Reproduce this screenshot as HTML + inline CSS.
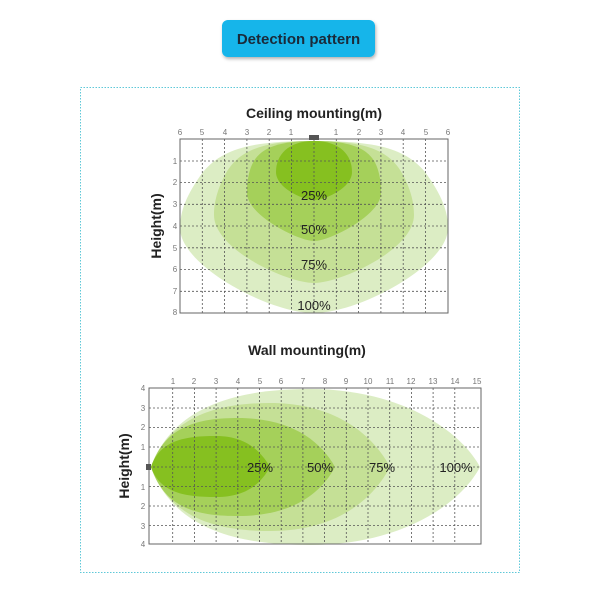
<!DOCTYPE html>
<html><head><meta charset="utf-8"><style>
body{margin:0;background:#fff;width:600px;height:600px;overflow:hidden;font-family:"Liberation Sans",sans-serif}
</style></head><body>
<svg width="600" height="600" xmlns="http://www.w3.org/2000/svg" font-family="Liberation Sans, sans-serif">
<defs><filter id="sh" x="-10%" y="-20%" width="130%" height="160%"><feDropShadow dx="1" dy="2" stdDeviation="1.5" flood-color="#000" flood-opacity="0.3"/></filter></defs>
<rect x="222" y="20" width="153" height="37" rx="6" fill="#12b5ea" filter="url(#sh)"/>
<text x="298.5" y="44" text-anchor="middle" font-size="15" font-weight="bold" fill="#1a2a3a">Detection pattern</text>
<rect x="80.5" y="87.5" width="439" height="485" fill="none" stroke="#5fc8d8" stroke-width="1" stroke-dasharray="1.5,1.5"/>

<!-- Ceiling -->
<text x="314" y="118" text-anchor="middle" font-size="14" font-weight="bold" fill="#222">Ceiling mounting(m)</text>
<path d="M314,141 C375,141 405,148 425,172 C442,195 448,212 448,228 C448,265 360,313 314,313 C268,313 180,265 180,228 C180,212 186,195 203,172 C223,148 253,141 314,141Z" fill="#dcedc4"/>
<path d="M314,141 C365,141 390,150 403,175 C412,192 414,205 414,215 C414,250 340,283 314,283 C288,283 214,250 214,215 C214,205 216,192 225,175 C238,150 263,141 314,141Z" fill="#c5e096"/>
<path d="M314,141 C355,141 372,150 378,170 C381,180 381,188 381,193 C381,215 330,241 314,241 C298,241 247,215 247,193 C247,188 247,180 250,170 C256,150 273,141 314,141Z" fill="#a5d05a"/>
<path d="M314,141 C340,141 352,155 352,172 C352,188 325,200 314,200 C303,200 276,188 276,172 C276,155 288,141 314,141Z" fill="#86c020"/>
<g stroke="#555" stroke-width="0.8" stroke-dasharray="2,2" fill="none">
<path d="M202.3,139V313M224.6,139V313M246.9,139V313M269.2,139V313M291.5,139V313M314,139V313M336.3,139V313M358.6,139V313M380.9,139V313M403.2,139V313M425.5,139V313"/>
<path d="M180,161H448M180,182.5H448M180,204.3H448M180,226H448M180,247.8H448M180,269.5H448M180,291.3H448"/>
</g>
<rect x="180" y="139" width="268" height="174" fill="none" stroke="#666" stroke-width="1"/>
<rect x="309" y="135" width="10" height="5" fill="#555"/>
<g font-size="8" fill="#777" text-anchor="middle">
<text x="180" y="135">6</text><text x="202" y="135">5</text><text x="225" y="135">4</text><text x="247" y="135">3</text><text x="269" y="135">2</text><text x="291" y="135">1</text><text x="336" y="135">1</text><text x="359" y="135">2</text><text x="381" y="135">3</text><text x="403" y="135">4</text><text x="426" y="135">5</text><text x="448" y="135">6</text>
<text x="175" y="164">1</text><text x="175" y="185">2</text><text x="175" y="207">3</text><text x="175" y="229">4</text><text x="175" y="251">5</text><text x="175" y="272">6</text><text x="175" y="294">7</text><text x="175" y="315">8</text>
</g>
<text transform="translate(161,226) rotate(-90)" text-anchor="middle" font-size="14" font-weight="bold" fill="#222">Height(m)</text>
<g font-size="13" fill="#222" text-anchor="middle">
<text x="314" y="200">25%</text><text x="314" y="234">50%</text><text x="314" y="269">75%</text><text x="314" y="310">100%</text>
</g>

<!-- Wall -->
<text x="307" y="355" text-anchor="middle" font-size="14" font-weight="bold" fill="#222">Wall mounting(m)</text>
<path d="M151,467 C175,400 250,389 310,389 C400,389 460,430 480,467 C460,505 400,545 310,545 C250,545 175,535 151,467Z" fill="#dcedc4"/>
<path d="M151,467 C170,415 220,403 270,403 C330,403 370,430 390,467 C370,505 330,531 270,531 C220,531 170,520 151,467Z" fill="#c5e096"/>
<path d="M151,467 C165,425 200,418 238,418 C290,418 320,440 335,467 C320,495 290,516 238,516 C200,516 165,510 151,467Z" fill="#a5d05a"/>
<path d="M151,467 C160,440 185,436 216,436 C245,436 260,450 270,467 C260,485 245,497 216,497 C185,497 160,493 151,467Z" fill="#86c020"/>
<g stroke="#555" stroke-width="0.8" stroke-dasharray="2,2" fill="none">
<path d="M172.7,388V544M194.4,388V544M216.1,388V544M237.8,388V544M259.5,388V544M281.2,388V544M302.9,388V544M324.6,388V544M346.3,388V544M368,388V544M389.7,388V544M411.4,388V544M433.1,388V544M454.8,388V544"/>
<path d="M149,408H481M149,427.5H481M149,447H481M149,467H481M149,486.5H481M149,506H481M149,525.5H481"/>
</g>
<rect x="149" y="388" width="332" height="156" fill="none" stroke="#666" stroke-width="1"/>
<rect x="146" y="464" width="5" height="6" fill="#555"/>
<g font-size="8" fill="#777" text-anchor="middle">
<text x="173" y="384">1</text><text x="194" y="384">2</text><text x="216" y="384">3</text><text x="238" y="384">4</text><text x="260" y="384">5</text><text x="281" y="384">6</text><text x="303" y="384">7</text><text x="325" y="384">8</text><text x="346" y="384">9</text><text x="368" y="384">10</text><text x="390" y="384">11</text><text x="411" y="384">12</text><text x="433" y="384">13</text><text x="455" y="384">14</text><text x="477" y="384">15</text>
<text x="143" y="391">4</text><text x="143" y="411">3</text><text x="143" y="430">2</text><text x="143" y="450">1</text><text x="143" y="490">1</text><text x="143" y="509">2</text><text x="143" y="529">3</text><text x="143" y="547">4</text>
</g>
<text transform="translate(129,466) rotate(-90)" text-anchor="middle" font-size="14" font-weight="bold" fill="#222">Height(m)</text>
<g font-size="13" fill="#222" text-anchor="middle">
<text x="260" y="472">25%</text><text x="320" y="472">50%</text><text x="382" y="472">75%</text><text x="456" y="472">100%</text>
</g>
</svg>
</body></html>
